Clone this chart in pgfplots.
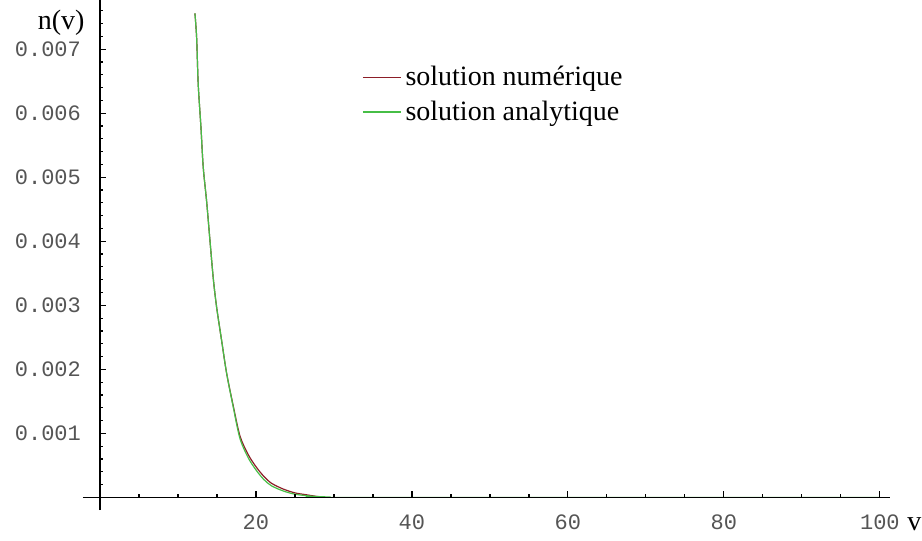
\documentclass[border=0pt]{standalone}
\usepackage{pgfplots}
\pgfplotsset{compat=1.18}
\usepackage{fontspec}
\setmainfont{Liberation Serif}
\newfontfamily\monofont{Liberation Mono}
\definecolor{numred}{RGB}{140,30,40}
\definecolor{anagreen}{RGB}{70,190,70}
\definecolor{ticklab}{RGB}{85,85,85}

\begin{document}
\begin{tikzpicture}
\begin{axis}[
  name=ax,
  scale only axis,
  width=403.6pt, height=256.1pt,
  xmin=-2.2, xmax=101.3,
  ymin=-0.0002, ymax=0.0078,
  axis lines=middle,
  axis line style={black, line width=0.7pt, -},
  axis on top,
  xtick={20,40,60,80,100},
  ytick={0.001,0.002,0.003,0.004,0.005,0.006,0.007},
  minor xtick={5,10,15,25,30,35,45,50,55,65,70,75,85,90,95},
  minor ytick={0.0002,0.0004,0.0006,0.0008,0.0012,0.0014,0.0016,0.0018,0.0022,0.0024,0.0026,0.0028,0.0032,0.0034,0.0036,0.0038,0.0042,0.0044,0.0046,0.0048,0.0052,0.0054,0.0056,0.0058,0.0062,0.0064,0.0066,0.0068,0.0072,0.0074,0.0076},
  tick align=inside,
  major tick length=3pt, minor tick length=1.5pt,
  tick style={black, line width=0.6pt},
  scaled y ticks=false,
  yticklabel style={/pgf/number format/fixed, /pgf/number format/precision=3, /pgf/number format/fixed zerofill, xshift=-6pt},
  xticklabel style={yshift=-5pt},
  /pgf/number format/assume math mode=true,
  ticklabel style={font=\monofont\fontsize{11}{13}\selectfont, text=ticklab},
  xlabel={v}, ylabel={n(v)},
  every axis x label/.style={at={(axis cs:101.3,0)}, anchor=west, inner sep=0pt, xshift=8.5pt, yshift=-13.5pt, font=\fontsize{14}{16}\selectfont},
  every axis y label/.style={at={(axis cs:0,0.0078)}, anchor=north east, inner sep=0pt, xshift=-7.5pt, yshift=-6pt, font=\fontsize{14}{16}\selectfont},
  legend style={at={(rel axis cs:0.3458,0.875)}, anchor=north west, draw=none, fill=none, inner sep=0pt, font=\fontsize{14}{16}\selectfont, row sep=2pt},
  legend cell align=left,
  legend image code/.code={\draw[#1] (0pt,0pt) -- (19pt,0pt);},
]
\addplot[numred, line width=0.6pt, smooth] table {
x y
12.18 0.00756
12.40 0.00717
12.60 0.00645
12.95 0.00578
13.24 0.00516
13.68 0.00462
14.10 0.00402
14.53 0.00342
14.96 0.00297
15.60 0.00245
16.24 0.00194
17.09 0.00143
17.95 0.00096
19.00 0.00067
20.00 0.00048
21.00 0.00033
22.00 0.00022
23.50 0.00013
25.00 0.00007
26.50 0.00004
28.00 0.00001
28.50 0.00000
};
\addlegendentry{solution numérique}
\addplot[anagreen, line width=0.6pt, smooth] table {
x y
12.18 0.00756
12.40 0.00717
12.60 0.00645
12.95 0.00578
13.24 0.00516
13.68 0.00462
14.10 0.00402
14.53 0.00342
14.96 0.00297
15.60 0.00245
16.24 0.00194
17.09 0.00141
17.95 0.00092
19.00 0.00062
20.00 0.00043
21.00 0.00028
22.00 0.00018
23.50 0.00010
25.00 0.00005
27.00 0.00002
29.50 0.000005
31.00 0.00000
100.0 0.00000
};
\addlegendentry{solution analytique}
\end{axis}
\pgfresetboundingbox
\useasboundingbox ([shift={(-41.4pt,-15pt)}]ax.south west) rectangle ([shift={(16pt,-1pt)}]ax.north east);
\end{tikzpicture}
\end{document}
